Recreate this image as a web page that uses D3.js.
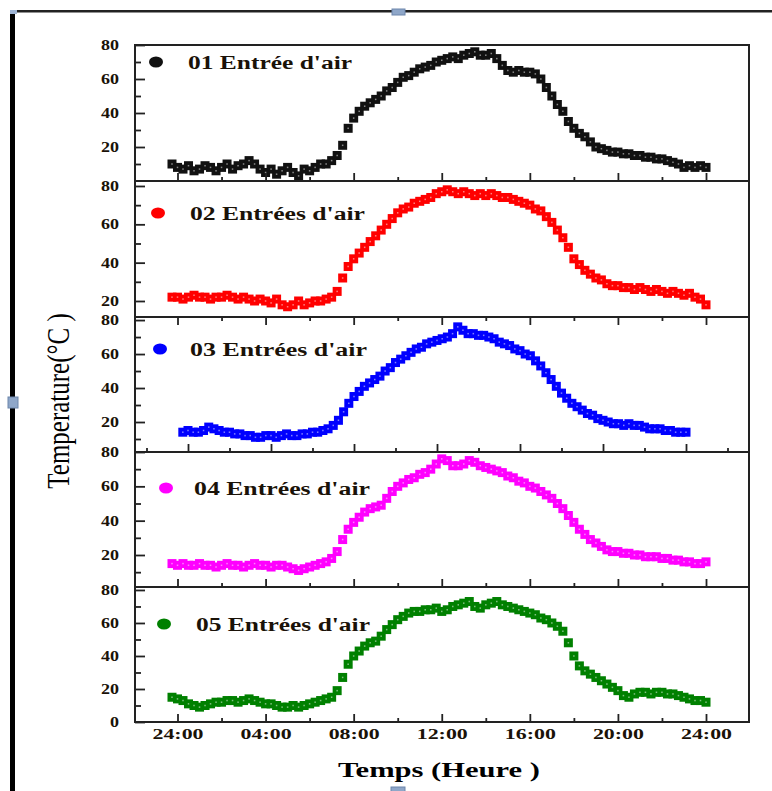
<!DOCTYPE html>
<html>
<head>
<meta charset="utf-8">
<script src="https://cdn.jsdelivr.net/npm/d3@7"></script>
<style>
  html, body { margin: 0; padding: 0; background: #fff; }
  svg { display: block; }
</style>
</head>
<body>
<svg width="772" height="791"></svg>
<script>

//  Readings, one every 15 min, from -0:15 to 24:00 (98 samples per series)
const hourStart = -0.25;
const hourStep = 0.25;

const seriesNames = ["01 Entrée d'air", "02 Entrées d'air", "03 Entrées d'air", "04 Entrées d'air", "05 Entrées d'air"];

const temp01 = [10, 8, 7, 9, 6, 7, 9, 8, 6, 8, 10, 7, 9, 10, 12, 10, 7, 5, 7, 4, 6, 8, 5, 3, 7, 6, 8, 10, 10, 12,
    15, 21, 31, 37, 41, 44, 46, 48, 50, 53, 55, 58, 61, 62, 64, 66, 67, 68, 70, 71, 72, 73, 72, 74, 75, 76, 74, 74, 75, 72,
    68, 65, 64, 65, 64, 64, 63, 60, 55, 50, 45, 41, 35, 31, 28, 26, 23, 20, 19, 18, 17, 17, 16, 16, 15, 15, 14, 14, 13, 13,
    12, 11, 10, 8, 9, 8, 9, 8];

const temp02 = [22, 22, 21, 22, 23, 22, 22, 21, 22, 22, 23, 22, 21, 22, 21, 20, 21, 20, 19, 21, 18, 17, 18, 20, 18, 19, 20, 20, 21, 22,
    25, 32, 38, 42, 45, 48, 51, 54, 57, 60, 63, 66, 68, 69, 71, 72, 73, 74, 76, 77, 78, 77, 76, 77, 76, 75, 76, 75, 76, 75,
    74, 74, 73, 72, 71, 70, 68, 67, 64, 61, 57, 53, 48, 42, 39, 36, 34, 32, 31, 29, 28, 28, 27, 27, 26, 27, 26, 25, 26, 25,
    24, 25, 24, 23, 24, 22, 21, 18];

const temp03 = [14, 15, 14, 14, 15, 17, 16, 15, 14, 14, 13, 13, 12, 12, 11, 11, 12, 12, 11, 12, 13, 12, 12, 13, 13, 14, 14, 15, 16, 18,
    21, 26, 31, 35, 38, 41, 43, 45, 47, 50, 52, 55, 57, 59, 61, 63, 64, 66, 67, 68, 69, 70, 72, 76, 74, 72, 72, 71, 71, 70,
    69, 67, 66, 65, 63, 62, 60, 59, 56, 53, 49, 45, 41, 37, 34, 31, 29, 27, 25, 24, 22, 21, 20, 19, 19, 18, 19, 18, 18, 17,
    16, 16, 16, 15, 15, 14, 14, 14];

const temp04 = [15, 14, 15, 14, 14, 15, 14, 14, 13, 14, 15, 14, 14, 13, 14, 15, 14, 14, 13, 14, 14, 13, 12, 11, 12, 13, 14, 15, 16, 18,
    22, 29, 35, 39, 42, 45, 47, 48, 49, 53, 57, 60, 62, 64, 65, 67, 68, 70, 73, 76, 75, 72, 72, 73, 75, 74, 72, 71, 70, 69,
    68, 66, 65, 63, 62, 60, 59, 57, 55, 53, 50, 47, 43, 39, 35, 32, 29, 27, 25, 23, 22, 22, 21, 21, 20, 20, 19, 19, 19, 18,
    18, 17, 17, 16, 16, 15, 15, 16];

const temp05 = [15, 14, 13, 11, 10, 9, 10, 11, 12, 12, 13, 13, 12, 13, 14, 13, 12, 11, 11, 10, 9, 9, 10, 9, 10, 11, 12, 13, 14, 15,
    19, 27, 35, 40, 43, 46, 48, 49, 52, 56, 59, 62, 64, 66, 67, 67, 68, 68, 69, 67, 68, 70, 71, 72, 73, 70, 69, 71, 72, 73,
    71, 70, 69, 68, 67, 66, 65, 63, 62, 60, 58, 55, 48, 40, 34, 31, 29, 27, 25, 23, 21, 19, 16, 15, 17, 18, 18, 17, 18, 18,
    17, 17, 16, 15, 14, 13, 13, 12];

const xTickHours = [0, 4, 8, 12, 16, 20, 24];
const xTickLabels = ['24:00', '04:00', '08:00', '12:00', '16:00', '20:00', '24:00'];
const xMinorHours = [-2, 2, 6, 10, 14, 18, 22, 26];
const yTicks = [20, 40, 60, 80];
const yTicksLast = [0, 20, 40, 60, 80];
const yMinorTicks = [10, 30, 50, 70];


const svg = d3.select('svg');
const serif = '"Liberation Serif", "Times New Roman", serif';

//  Plot area
const plotLeft = 135, plotRight = 749;

//  Time scales (panel 03 was exported with a slightly different x range)
const xMain = d3.scaleLinear().domain([0, 24]).range([177.5, 706]);
const xAlt = d3.scaleLinear().domain([0, 24]).range([188, 686]);

//  Panel layout: top/bottom pixel, temperature domain, which way the bottom ticks point
const panels = [
    { values: temp01, name: seriesNames[0], color: '#111111', top: 45,  bottom: 181, domain: [0, 80],      x: xMain, ticks: yTicks,     tickDir: -1,
      legend: { mx: 156, my: 62, tx: 188, len: 164 } },
    { values: temp02, name: seriesNames[1], color: '#ff0000', top: 181, bottom: 317, domain: [11.65, 82.6], x: xMain, ticks: yTicks,     tickDir: 1,
      legend: { mx: 158, my: 213, tx: 190, len: 175 } },
    { values: temp03, name: seriesNames[2], color: '#0000ff', top: 317, bottom: 452, domain: [2.35, 81.8],  x: xAlt,  ticks: yTicks,     tickDir: -1,
      legend: { mx: 160, my: 349, tx: 190, len: 177 } },
    { values: temp04, name: seriesNames[3], color: '#ff00ff', top: 452, bottom: 587, domain: [1.36, 80],   x: xMain, ticks: yTicks,     tickDir: -1,
      legend: { mx: 166, my: 488, tx: 194, len: 176 } },
    { values: temp05, name: seriesNames[4], color: '#008000', top: 587, bottom: 722, domain: [0, 81.8],    x: xMain, ticks: yTicksLast, tickDir: -1,
      legend: { mx: 164, my: 624, tx: 196, len: 174 } }
];


//======================================================
//  Page decorations (document frame + handles)
//======================================================
svg.append('rect').attr('x', 15).attr('y', 10).attr('width', 757).attr('height', 2.5).attr('fill', '#222');
svg.append('rect').attr('x', 10).attr('y', 12).attr('width', 5).attr('height', 779).attr('fill', '#000');
svg.append('rect').attr('x', 10).attr('y', 10).attr('width', 7).attr('height', 4).attr('fill', '#9db3d3');

const handle = (x, y, w, h) => svg.append('rect')
    .attr('x', x).attr('y', y).attr('width', w).attr('height', h)
    .attr('fill', '#8fa7c9').attr('stroke', '#6c86ab').attr('stroke-width', 1);
handle(392, 9, 13, 6);
handle(8, 397, 10, 11);
handle(391, 787, 14, 5);


//======================================================
//  Panels
//======================================================
panels.forEach(p => {
    const g = svg.append('g').attr('class', 'panel');
    const y = d3.scaleLinear().domain(p.domain).range([p.bottom, p.top]);
    const x = p.x;
    const px = (d, i) => x(hourStart + i * hourStep);

    //  Data points: solid squares that merge into a band ...
    g.append('g').selectAll('rect')
        .data(p.values)
        .join('rect')
        .attr('x', (d, i) => px(d, i) - 4.5)
        .attr('y', d => y(d) - 4.5)
        .attr('width', 9)
        .attr('height', 9)
        .attr('fill', p.color);

    //  ... with a faint light centre from each open marker
    g.append('g').selectAll('rect')
        .data(p.values)
        .join('rect')
        .attr('x', (d, i) => px(d, i) - 0.75)
        .attr('y', d => y(d) - 0.75)
        .attr('width', 1.5)
        .attr('height', 1.5)
        .attr('fill', '#fff')
        .attr('fill-opacity', 0.5);

    //  y ticks (inward) and labels
    const yAx = g.append('g')
        .attr('transform', `translate(${plotLeft},0)`)
        .call(d3.axisLeft(y).tickValues(p.ticks).tickSize(-10).tickPadding(16));
    g.append('g')
        .attr('transform', `translate(${plotLeft},0)`)
        .call(d3.axisLeft(y).tickValues(yMinorTicks.filter(v => y(v) > p.top + 2 && y(v) < p.bottom - 2))
            .tickSize(-6).tickFormat(''));

    //  x ticks along the bottom edge of the panel
    const xAx = g.append('g')
        .attr('transform', `translate(0,${p.bottom})`)
        .call(d3.axisBottom(x).tickValues(xTickHours).tickSize(8 * p.tickDir).tickPadding(6)
            .tickFormat((d, i) => p.values === temp05 ? xTickLabels[i] : ''));
    g.append('g')
        .attr('transform', `translate(0,${p.bottom})`)
        .call(d3.axisBottom(x).tickValues(xMinorHours.filter(h => x(h) > plotLeft + 2 && x(h) < plotRight - 2))
            .tickSize(4 * p.tickDir).tickFormat(''));

    g.selectAll('.domain').remove();
    g.selectAll('.tick line').attr('stroke', '#222').attr('stroke-width', 1.8);

    yAx.selectAll('text')
        .attr('font-family', serif).attr('font-size', 14).attr('font-weight', 'bold').attr('fill', '#1a1208')
        .attr('textLength', d => String(d).length * 9)
        .attr('lengthAdjust', 'spacingAndGlyphs');
    xAx.selectAll('text')
        .attr('font-family', serif).attr('font-size', 15).attr('font-weight', 'bold').attr('fill', '#1a1208')
        .attr('textLength', 51)
        .attr('lengthAdjust', 'spacingAndGlyphs');

    //  Legend
    g.append('ellipse')
        .attr('cx', p.legend.mx).attr('cy', p.legend.my)
        .attr('rx', 7).attr('ry', 5.5)
        .attr('fill', p.color);
    g.append('text')
        .attr('x', p.legend.tx).attr('y', p.legend.my + 1)
        .attr('dy', '0.35em')
        .attr('font-family', serif).attr('font-size', 18).attr('font-weight', 'bold')
        .attr('fill', '#1a1208')
        .attr('textLength', p.legend.len)
        .attr('lengthAdjust', 'spacingAndGlyphs')
        .text(p.name);
});


//======================================================
//  Frame and panel separators
//======================================================
svg.append('rect')
    .attr('x', plotLeft).attr('y', panels[0].top)
    .attr('width', plotRight - plotLeft).attr('height', panels[4].bottom - panels[0].top)
    .attr('fill', 'none').attr('stroke', '#222').attr('stroke-width', 2);

svg.append('g').selectAll('line')
    .data(panels.slice(1))
    .join('line')
    .attr('x1', plotLeft).attr('x2', plotRight)
    .attr('y1', d => d.top).attr('y2', d => d.top)
    .attr('stroke', '#222').attr('stroke-width', 2);


//======================================================
//  Axis titles
//======================================================
svg.append('text')
    .attr('transform', 'translate(58,401) scale(1.3,1) rotate(-90)')
    .attr('text-anchor', 'middle')
    .attr('dy', '0.35em')
    .attr('font-family', serif).attr('font-size', 25)
    .attr('fill', '#000')
    .text('Temperature(°C )');

svg.append('text')
    .attr('x', 338).attr('y', 777)
    .attr('font-family', serif).attr('font-size', 22).attr('font-weight', 'bold')
    .attr('fill', '#000')
    .attr('textLength', 202)
    .attr('lengthAdjust', 'spacingAndGlyphs')
    .text('Temps (Heure )');

</script>
</body>
</html>
